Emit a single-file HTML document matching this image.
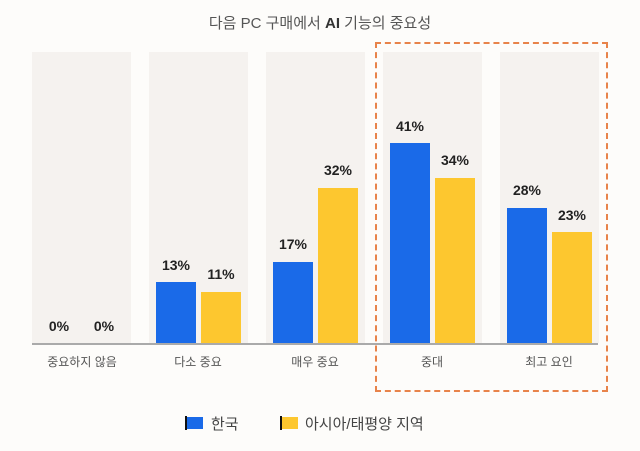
<!DOCTYPE html>
<html><head><meta charset="utf-8"><style>
body{margin:0;width:640px;height:451px;background:#fdfcfa;overflow:hidden;font-family:"Liberation Sans","Noto Sans CJK KR",sans-serif;position:relative}
.a{position:absolute}
.col{position:absolute;top:52px;height:291px;width:99px;background:#f5f2ef}
.b{position:absolute;width:40px;background:#1a6ae8}
.y{position:absolute;width:40px;background:#fdc72f}
.v{position:absolute;width:60px;text-align:center;font-size:14px;font-weight:bold;color:#222}
.c{position:absolute;top:353px;width:120px;text-align:center;font-size:12px;color:#555}
</style></head><body>
<div class="a" style="left:0;width:640px;top:12px;text-align:center;font-size:15px;color:#555">다음 PC 구매에서 <b style="color:#333">AI</b> 기능의 중요성</div>
<div class="col" style="left:32px"></div>
<div class="col" style="left:149px"></div>
<div class="col" style="left:266px"></div>
<div class="col" style="left:383px"></div>
<div class="col" style="left:500px"></div>
<div class="a" style="left:32px;top:343px;width:566px;height:2px;background:#aaa"></div>
<div class="a" style="left:375px;top:42px;width:229px;height:346px;border:2px dashed #e8834a"></div>
<div class="b" style="left:156px;top:282px;height:61px"></div>
<div class="y" style="left:201px;top:292px;height:51px"></div>
<div class="b" style="left:273px;top:262px;height:81px"></div>
<div class="y" style="left:318px;top:188px;height:155px"></div>
<div class="b" style="left:390px;top:143px;height:200px"></div>
<div class="y" style="left:435px;top:178px;height:165px"></div>
<div class="b" style="left:507px;top:208px;height:135px"></div>
<div class="y" style="left:552px;top:232px;height:111px"></div>
<div class="v" style="left:29px;top:318px">0%</div>
<div class="v" style="left:74px;top:318px">0%</div>
<div class="v" style="left:146px;top:257px">13%</div>
<div class="v" style="left:191px;top:266px">11%</div>
<div class="v" style="left:263px;top:236px">17%</div>
<div class="v" style="left:308px;top:162px">32%</div>
<div class="v" style="left:380px;top:118px">41%</div>
<div class="v" style="left:425px;top:152px">34%</div>
<div class="v" style="left:497px;top:182px">28%</div>
<div class="v" style="left:542px;top:207px">23%</div>
<div class="c" style="left:22px">중요하지 않음</div>
<div class="c" style="left:138px">다소 중요</div>
<div class="c" style="left:255px">매우 중요</div>
<div class="c" style="left:372px">중대</div>
<div class="c" style="left:489px">최고 요인</div>
<div class="a" style="left:185px;top:416px;width:2px;height:14px;background:#111"></div>
<div class="a" style="left:187px;top:417px;width:16px;height:12px;background:#1a6ae8"></div>
<div class="a" style="left:211px;top:413px;font-size:15px;color:#444">한국</div>
<div class="a" style="left:280px;top:416px;width:2px;height:14px;background:#111"></div>
<div class="a" style="left:282px;top:417px;width:16px;height:12px;background:#fdc72f"></div>
<div class="a" style="left:305px;top:413px;font-size:15px;color:#444">아시아/태평양 지역</div>
</body></html>
